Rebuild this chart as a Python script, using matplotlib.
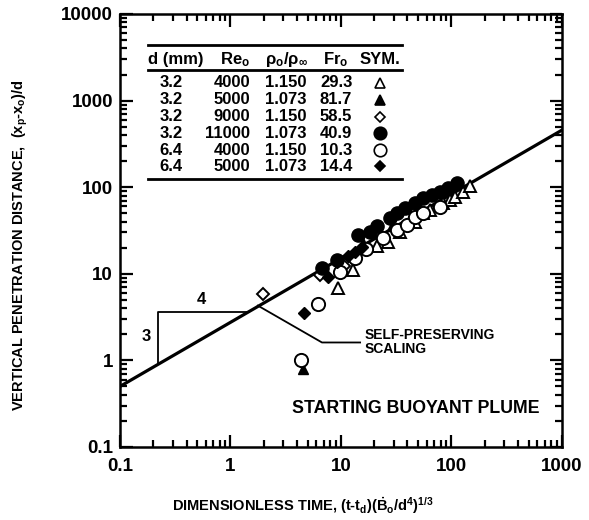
import numpy as np
import matplotlib
matplotlib.use("Agg")
import matplotlib.pyplot as plt
from matplotlib.ticker import LogLocator, NullFormatter, FixedFormatter, FixedLocator

plt.rcParams['font.family'] = ['Liberation Sans', 'DejaVu Sans']
plt.rcParams['font.weight'] = 'bold'
plt.rcParams['axes.labelweight'] = 'bold'
plt.rcParams['mathtext.fontset'] = 'custom'
plt.rcParams['mathtext.rm'] = 'Liberation Sans:bold'
plt.rcParams['mathtext.it'] = 'Liberation Sans:bold'
plt.rcParams['mathtext.bf'] = 'Liberation Sans:bold'
plt.rcParams['mathtext.default'] = 'rm'

# experimental runs: d (mm), Re_o, rho_o/rho_inf, Fr_o
d_mm = ['3.2', '3.2', '3.2', '3.2', '6.4', '6.4']
re_o = ['4000', '5000', '9000', '11000', '4000', '5000']
rho_ratio = ['1.150', '1.073', '1.150', '1.073', '1.150', '1.073']
fr_o = ['29.3', '81.7', '58.5', '40.9', '10.3', '14.4']

# penetration data, one pair of lists per run
t_open_tri = [9.4, 12.9, 21.0, 26.6, 34.2, 46.8, 55.2, 63.8, 83.7, 97, 108, 127, 147]
x_open_tri = [6.9, 11.1, 21.0, 23.5, 30.7, 40.1, 50.9, 55.1, 66.4, 72, 77.9, 89, 102]

t_fill_tri = [4.5, 15.8, 29.0]
x_fill_tri = [0.80, 22.9, 36.0]

t_open_dia = [1.97, 6.5, 10.6]
x_open_dia = [5.9, 9.8, 12.4]

t_fill_circ = [6.7, 9.3, 14.3, 18.3, 21.2, 27.7, 32.1, 37.9, 46.8, 55.2, 66.6, 78.7, 93, 112]
x_fill_circ = [11.8, 14.5, 28.4, 30.7, 36.0, 44.6, 50.9, 58.1, 66.4, 75.9, 82.2, 89, 99, 113]

t_open_circ = [4.35, 6.2, 9.7, 13.5, 16.8, 24.0, 32.1, 39.6, 46.8, 55.2, 78.7]
x_open_circ = [1.02, 4.53, 10.4, 15.4, 19.5, 26.2, 32.4, 37.0, 45.0, 51.0, 59.7]

t_fill_dia = [4.63, 7.6, 9.2, 11.6, 13.5, 15.5]
x_fill_dia = [3.56, 9.3, 13.8, 16.2, 18.0, 20.6]

# self-preserving scaling line  x/d = C * t^(3/4)
coef = 2.75
expo = 0.74

fig = plt.figure(figsize=(5.89, 5.20), dpi=100)
ax = fig.add_axes([0.2037, 0.1404, 0.7504, 0.8327])
ax.set_xscale('log')
ax.set_yscale('log')
ax.set_xlim(0.1, 1000)
ax.set_ylim(0.1, 10000)

tt = np.logspace(-1, 3, 50)
ax.plot(tt, coef * tt ** expo, color='black', lw=2.3, zorder=2)

# slope triangle
tri_x0 = 0.22
tri_top = 3.66
tri_x1 = (tri_top / coef) ** (1 / expo)
ax.plot([tri_x0, tri_x0, tri_x1], [coef * tri_x0 ** expo, tri_top, tri_top],
        color='black', lw=1.3, zorder=2)
ax.text(0.55, tri_top * 1.12, '4', ha='center', va='bottom', fontsize=12)
ax.text(tri_x0 * 0.78, 1.9, '3', ha='center', va='center', fontsize=12)

# leader to the scaling label
lead_t = [1.77, 6.73, 14.9]
lead_x = [4.29, 1.61, 1.61]
ax.plot(lead_t, lead_x, color='black', lw=1.3, zorder=2)
ax.text(16.5, 1.61, 'SELF-PRESERVING\nSCALING', ha='left', va='center',
        fontsize=10, linespacing=1.0)

ax.plot(t_open_tri, x_open_tri, '^', mfc='white', mec='black', mew=1.4, ms=8.5, zorder=3)
ax.plot(t_fill_tri, x_fill_tri, '^', mfc='black', mec='black', ms=7.5, zorder=3)
ax.plot(t_open_dia, x_open_dia, 'D', mfc='white', mec='black', mew=1.4, ms=6, zorder=3)
ax.plot(t_open_circ, x_open_circ, 'o', mfc='white', mec='black', mew=1.4, ms=9.5, zorder=3)
ax.plot(t_fill_circ, x_fill_circ, 'o', mfc='black', mec='black', ms=9.5, zorder=4)
ax.plot(t_fill_dia, x_fill_dia, 'D', mfc='black', mec='black', ms=6, zorder=4)

# run table
cols = [(0.115, 'center', d_mm), (0.294, 'right', re_o),
        (0.376, 'center', rho_ratio), (0.489, 'center', fr_o)]
heads = [(0.127, 'center', 'd (mm)'), (0.294, 'right', r'Re$_o$'),
         (0.376, 'center', r'$\rho_o/\rho_\infty$'), (0.489, 'center', r'Fr$_o$'),
         (0.588, 'center', 'SYM.')]
for hx, ha, h in heads:
    ax.text(hx, 0.894, h, transform=ax.transAxes, ha=ha, va='center', fontsize=12)
row_y = [0.841, 0.802, 0.763, 0.724, 0.685, 0.648]
for cx, ha, vals in cols:
    for yy, v in zip(row_y, vals):
        ax.text(cx, yy, v, transform=ax.transAxes, ha=ha, va='center', fontsize=12)
sym = [('^', 'white', 7), ('^', 'black', 7), ('D', 'white', 5),
       ('o', 'black', 9), ('o', 'white', 9), ('D', 'black', 5)]
for yy, (m, fc, s) in zip(row_y, sym):
    ax.plot([0.588], [yy], m, mfc=fc, mec='black', mew=1.2, ms=s,
            transform=ax.transAxes, clip_on=False)
for ly in [0.928, 0.871, 0.619]:
    ax.plot([0.063, 0.638], [ly, ly], color='black', lw=2.0, transform=ax.transAxes)

ax.text(0.95, 0.09, 'STARTING BUOYANT PLUME', transform=ax.transAxes,
        ha='right', va='center', fontsize=12.8)

# axes styling
for sp in ax.spines.values():
    sp.set_linewidth(1.8)
ax.xaxis.set_major_locator(FixedLocator([0.1, 1, 10, 100, 1000]))
ax.xaxis.set_major_formatter(FixedFormatter(['0.1', '1', '10', '100', '1000']))
ax.yaxis.set_major_locator(FixedLocator([0.1, 1, 10, 100, 1000, 10000]))
ax.yaxis.set_major_formatter(FixedFormatter(['0.1', '1', '10', '100', '1000', '10000']))
ax.xaxis.set_minor_locator(LogLocator(base=10, subs=np.arange(2, 10), numticks=20))
ax.yaxis.set_minor_locator(LogLocator(base=10, subs=np.arange(2, 10), numticks=20))
ax.xaxis.set_minor_formatter(NullFormatter())
ax.yaxis.set_minor_formatter(NullFormatter())
ax.tick_params(which='both', direction='in', top=True, right=True, width=1.6)
ax.tick_params(which='major', length=9)
ax.tick_params(which='minor', length=5)
ax.tick_params(axis='x', which='major', pad=8, labelsize=13.5)
ax.tick_params(axis='y', which='major', pad=5, labelsize=13.5)

ax.set_xlabel(r'DIMENSIONLESS TIME, (t-t$_d$)($\dot{B}_o$/d$^4$)$^{1/3}$',
              fontsize=10.5, fontweight='bold')
ax.set_ylabel(r'VERTICAL PENETRATION DISTANCE,  (x$_p$-x$_o$)/d',
              fontsize=10.5, fontweight='bold')
ax.xaxis.set_label_coords(0.413, -0.111)
ax.yaxis.set_label_coords(-0.204, 0.466)

fig.savefig('out.png', dpi=100)
